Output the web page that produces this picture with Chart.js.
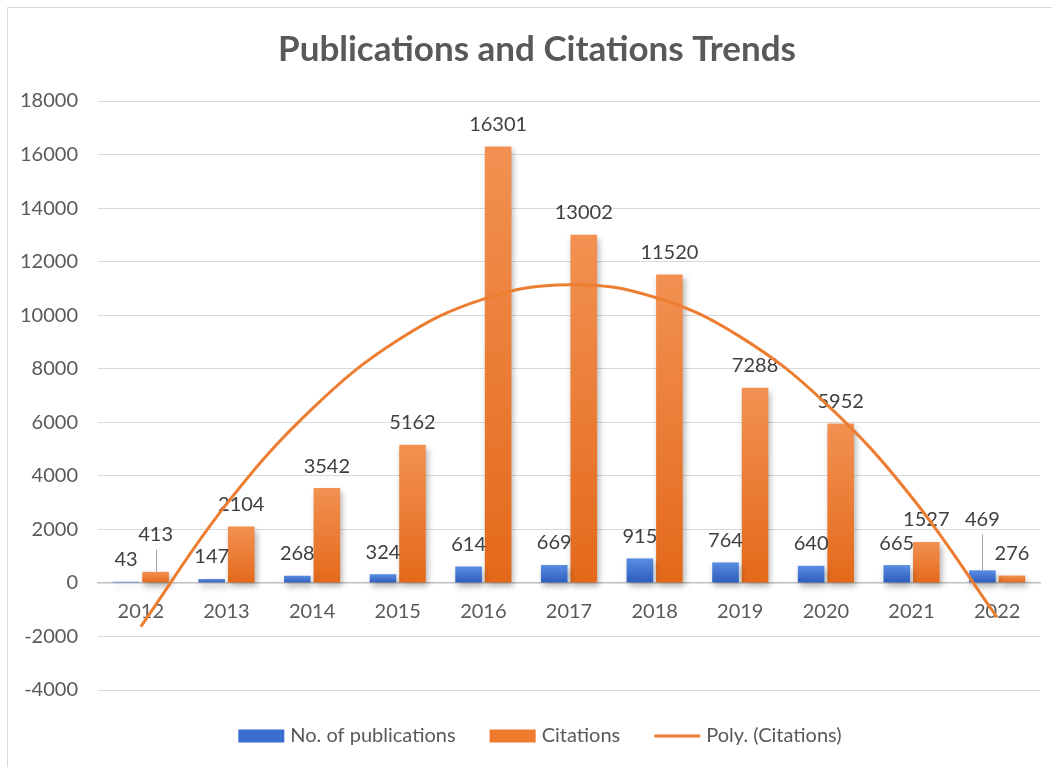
<!DOCTYPE html>
<html>
<head>
<meta charset="utf-8">
<title>Publications and Citations Trends</title>
<script src="https://cdn.jsdelivr.net/npm/chart.js@4.4.1/dist/chart.umd.min.js"></script>
<style>
  body { margin: 0; background: #ffffff; }
  #trendChart { display: block; }
</style>
</head>
<body>
<canvas id="trendChart" width="1052" height="767"></canvas>
<script>
// Chart data
const years = ["2012", "2013", "2014", "2015", "2016", "2017", "2018", "2019", "2020", "2021", "2022"];
const publications = [43, 147, 268, 324, 614, 669, 915, 764, 640, 665, 469];
const citations = [413, 2104, 3542, 5162, 16301, 13002, 11520, 7288, 5952, 1527, 276];
// 2nd order polynomial trend of citations, read at each year
const polyCitations = [-1630, 2940, 6500, 9060, 10600, 11140, 10670, 9190, 6700, 3210, -1290];

const yMin = -4000;
const yMax = 18000;
const yStep = 2000;

const chartTitle = "Publications and Citations Trends";
const textColor = "#595959";
const labelColor = "#404040";
const fontFamily = "Lato, 'Open Sans', sans-serif";

// Vertical gradient for each bar, light at the top and darker at the base
function barGradient(top, bottom) {
  return (context) => {
    const chart = context.chart;
    const yScale = chart.scales.y;
    if (!yScale || context.type !== "data") return bottom;
    const yTop = yScale.getPixelForValue(context.raw);
    const yBase = yScale.getPixelForValue(0);
    if (!isFinite(yTop) || !isFinite(yBase) || yTop === yBase) return bottom;
    const g = chart.ctx.createLinearGradient(0, yTop, 0, yBase);
    g.addColorStop(0, top);
    g.addColorStop(1, bottom);
    return g;
  };
}

// Background and thin frame
const framePlugin = {
  id: "frame",
  beforeDraw(chart) {
    const ctx = chart.ctx;
    ctx.save();
    ctx.fillStyle = "#ffffff";
    ctx.fillRect(0, 0, chart.width, chart.height);
    ctx.strokeStyle = "#d9d9d9";
    ctx.lineWidth = 1;
    ctx.beginPath();
    ctx.moveTo(7.5, chart.height);
    ctx.lineTo(7.5, 7.5);
    ctx.lineTo(chart.width, 7.5);
    ctx.stroke();
    ctx.restore();
  },
};

// Soft drop shadow under the bars
const shadowPlugin = {
  id: "barShadow",
  beforeDatasetDraw(chart, args) {
    if (args.meta.type !== "bar") return;
    const ctx = chart.ctx;
    ctx.save();
    ctx.shadowColor = "rgba(0, 0, 0, 0.3)";
    ctx.shadowBlur = 6;
    ctx.shadowOffsetX = 2;
    ctx.shadowOffsetY = 4;
  },
  afterDatasetDraw(chart, args) {
    if (args.meta.type !== "bar") return;
    chart.ctx.restore();
  },
};

// Value labels above the bars (drawn before the trend line so it sits on top)
// lifted labels get a small leader line back to their bar
const liftedLabels = { "1-0": 15, "0-10": 29 };

const valueLabelPlugin = {
  id: "valueLabels",
  beforeDatasetDraw(chart, args) {
    if (args.meta.type !== "line") return;
    const ctx = chart.ctx;
    ctx.save();
    ctx.font = "20px " + fontFamily;
    ctx.fillStyle = labelColor;
    ctx.textAlign = "center";
    ctx.textBaseline = "middle";
    chart.data.datasets.forEach((ds, di) => {
      if (ds.type !== "bar") return;
      const meta = chart.getDatasetMeta(di);
      meta.data.forEach((bar, i) => {
        const lift = liftedLabels[di + "-" + i] || 0;
        const y = bar.y - 22 - lift;
        if (lift) {
          ctx.strokeStyle = "#a6a6a6";
          ctx.lineWidth = 1;
          ctx.beginPath();
          ctx.moveTo(Math.round(bar.x) + 0.5, y + 15);
          ctx.lineTo(Math.round(bar.x) + 0.5, bar.y);
          ctx.stroke();
        }
        ctx.fillText(String(ds.data[i]), bar.x, y);
      });
    });
    ctx.restore();
  },
};

// Title and legend, placed by hand so the plot area keeps its exact size
const headerLegendPlugin = {
  id: "headerLegend",
  afterDraw(chart) {
    const ctx = chart.ctx;
    ctx.save();

    ctx.font = "bold 35px " + fontFamily;
    ctx.fillStyle = textColor;
    ctx.textAlign = "center";
    ctx.textBaseline = "middle";
    ctx.fillText(chartTitle, 537, 50);

    const boxW = 46;
    const boxH = 13;
    const gap = 6;
    const spacing = 34;
    const legendY = 736;
    ctx.font = "20px " + fontFamily;
    const items = chart.data.datasets.map((ds) => ({
      ds,
      w: boxW + gap + ctx.measureText(ds.label).width,
    }));
    const total = items.reduce((s, it) => s + it.w, 0) + spacing * (items.length - 1);
    let x = 540 - total / 2;
    ctx.textAlign = "left";
    items.forEach(({ ds, w }) => {
      if (ds.type === "line") {
        ctx.strokeStyle = ds.legendColor;
        ctx.lineWidth = 3;
        ctx.beginPath();
        ctx.moveTo(x, legendY);
        ctx.lineTo(x + boxW, legendY);
        ctx.stroke();
      } else {
        ctx.fillStyle = ds.legendColor;
        ctx.fillRect(x, legendY - boxH / 2, boxW, boxH);
      }
      ctx.fillStyle = textColor;
      ctx.fillText(ds.label, x + boxW + gap, legendY);
      x += w + spacing;
    });
    ctx.restore();
  },
};

const ctx = document.getElementById("trendChart").getContext("2d");

const chart = new Chart(ctx, {
  type: "bar",
  data: {
    labels: years,
    datasets: [
      {
        type: "bar",
        label: "No. of publications",
        data: publications,
        backgroundColor: barGradient("#5a8de2", "#2c5cbd"),
        legendColor: "#3a6cd0",
        categoryPercentage: 0.69,
        barPercentage: 0.9,
        order: 1,
      },
      {
        type: "bar",
        label: "Citations",
        data: citations,
        backgroundColor: barGradient("#f29152", "#e4691a"),
        legendColor: "#ee7a2c",
        categoryPercentage: 0.69,
        barPercentage: 0.9,
        order: 1,
      },
      {
        type: "line",
        label: "Poly. (Citations)",
        data: polyCitations,
        borderColor: "#ed7d31",
        legendColor: "#ed7d31",
        borderWidth: 3,
        pointRadius: 0,
        tension: 0.4,
        fill: false,
        order: 0,
      },
    ],
  },
  options: {
    responsive: false,
    animation: false,
    devicePixelRatio: 1,
    layout: {
      padding: { top: 101, left: 0, right: 12, bottom: 77 },
    },
    scales: {
      x: {
        position: { y: 0 },
        grid: { display: false },
        border: { color: "#bfbfbf", width: 1.5 },
        ticks: {
          color: textColor,
          font: { family: fontFamily, size: 20 },
          padding: 9,
          maxRotation: 0,
        },
      },
      y: {
        min: yMin,
        max: yMax,
        border: { display: false },
        grid: { color: "#d9d9d9", drawTicks: false },
        ticks: {
          stepSize: yStep,
          color: textColor,
          font: { family: fontFamily, size: 20 },
          padding: 20,
          callback: (value) => String(value),
        },
      },
    },
    plugins: {
      title: { display: false },
      legend: { display: false },
      tooltip: { enabled: false },
    },
  },
  plugins: [framePlugin, shadowPlugin, valueLabelPlugin, headerLegendPlugin],
});
</script>
</body>
</html>
